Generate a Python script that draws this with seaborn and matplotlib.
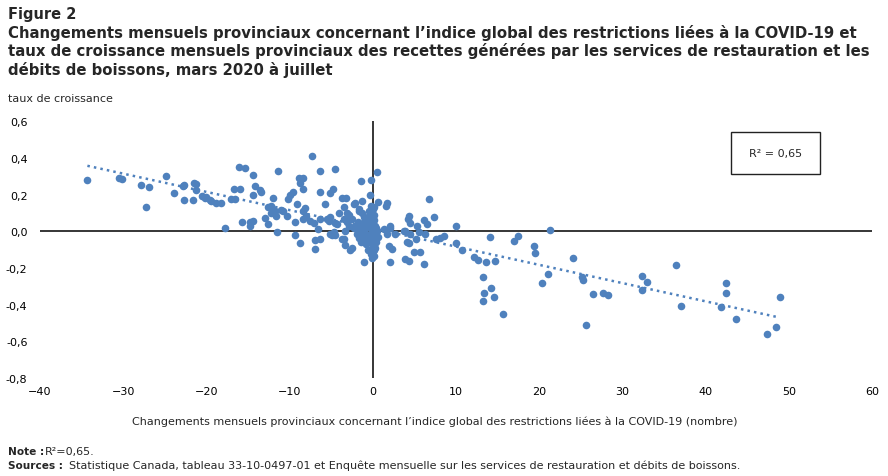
import matplotlib
matplotlib.use("Agg")
import matplotlib.pyplot as plt
import matplotlib.patches as patches
import seaborn as sns
import pandas as pd

# Changements mensuels de l'indice (x) et taux de croissance (y)
changement = [
    # gauche
    -34.3, -30.5, -30.2, -27.9, -27.3, -26.9, -24.8, -23.9, -22.7, -22.8,
    -22.7, -21.6, -21.5, -21.2, -21.2, -20.5, -20.2, -19.6, -20.0, -19.4,
    -18.8, -18.3, -17.8, -17.0, -16.6, -16.7, -16.0, -16.1, -15.3, -15.7,
    -14.8, -14.4, -14.8, -14.4, -14.1, -14.4, -13.6, -13.4, -11.4, -13.0,
    -12.6, -12.6, -12.2, -12.0, -12.2, -11.8, -11.6, -11.0, -11.5, -10.8,
    -10.3, -10.0, -10.2, -9.6, -9.1, -9.3, -9.4, -8.7, -8.9, -8.4,
    -8.8, -8.4, -7.3, -6.4, -4.6, -8.2, -8.35, -8.0, -8.4, -7.5,
    -7.1, -6.3, -5.3, -6.55, -7.0, -7.0, -6.3, -5.15, -4.75, -6.3,
    -5.8, -5.1, -4.8, -5.5, -5.1, -4.3, -4.9, -4.6,
    # autour de zéro
    -3.2, -2.2, -1.3, -1.4, -0.2, -3.5, -3.1, -3.5, -3.1, -2.5,
    -3.5, -3.3, -2.5, -1.9, -1.7, -2.3, 0.5, -0.3, 0.6, 1.7,
    -2.1, -1.7, -1.3, -4.7, -2.9, -1.9, -1.1, -0.1, -4.1, -2.9,
    -3.7, -2.7, -4.5, -3.3, -2.1, 0.1, -3.7,
    -0.2, 0.0, -0.3, 0.1, -0.1, 0.2, -0.4, 0.0, 0.3, -0.2,
    0.1, -0.1, 0.2, -0.3, 0.0, 0.2, -0.2, 0.1, -0.1, 0.0,
    -0.2, 0.1, -0.8, -1.2, -0.6, -1.5, -0.9, -1.3, -0.7, -1.6,
    -1.0, -0.5, -1.4, -0.8, 0.5, 0.6, 0.4, -0.5, -1.0, -1.8,
    0.4, -0.6, 0.3, -0.4, 0.2,
    # droite
    1.6, 6.8, 7.3, 4.4, 4.5, 5.3, 6.1, 6.5, 3.9, 4.3,
    6.1, 4.9, 5.7, 4.4, 5.2, 4.5, 3.7, 5.6, 6.3, 7.6,
    8.1, 8.5, 1.9, 2.3, 1.3, 2.1, 2.7, 2.1, 1.7, 3.9,
    4.2, 4.1, 2.1, 10.0, 10.0, 10.7, 12.2, 12.7, 13.6, 13.2,
    13.4, 13.3, 14.2, 14.6, 14.1, 14.7, 15.7, 17.0, 17.5, 19.4,
    19.5, 21.3, 21.1, 20.3, 24.1, 25.2, 25.3, 26.5, 25.6, 27.7,
    28.3, 32.3, 32.9, 32.3, 36.5, 37.0, 42.4, 42.4, 41.8, 43.6,
    48.9, 48.5, 47.4,
]
croissance = [
    0.28, 0.29, 0.285, 0.25, 0.13, 0.24, 0.30, 0.21, 0.25, 0.245,
    0.17, 0.17, 0.265, 0.255, 0.225, 0.19, 0.18, 0.17, 0.185, 0.165,
    0.155, 0.155, 0.02, 0.175, 0.175, 0.23, 0.23, 0.35, 0.345, 0.05,
    0.05, 0.055, 0.03, 0.305, 0.245, 0.20, 0.225, 0.215, 0.33, 0.07,
    0.04, 0.13, 0.14, 0.18, 0.10, 0.11, 0.085, 0.115, -0.005, 0.11,
    0.085, 0.20, 0.175, 0.215, 0.15, 0.05, -0.02, -0.065, 0.29, 0.29,
    0.26, 0.23, 0.41, 0.33, 0.34, 0.125, 0.11, 0.085, 0.065, 0.055,
    0.045, 0.065, 0.055, 0.01, -0.05, -0.095, -0.04, -0.016, -0.016, 0.215,
    0.15, 0.21, 0.23, 0.065, 0.08, 0.04, -0.02, -0.02,
    0.18, 0.15, 0.165, 0.275, 0.28, 0.13, 0.10, 0.065, 0.05, 0.065,
    -0.045, -0.075, -0.09, 0.01, 0.12, 0.02, 0.325, 0.20, 0.16, 0.155,
    0.155, 0.11, 0.10, -0.007, 0.03, -0.016, -0.17, -0.145, 0.10, 0.09,
    -0.045, -0.10, 0.047, 0.002, 0.03, -0.105, 0.18,
    0.14, 0.12, 0.10, 0.09, 0.075, 0.06, 0.05, 0.04, 0.03, 0.02,
    0.01, 0.0, -0.01, -0.02, -0.03, -0.045, -0.06, -0.075, -0.09, -0.11,
    -0.125, -0.135, 0.06, 0.045, 0.03, 0.02, 0.01, -0.01, -0.02, -0.035,
    -0.045, -0.05, -0.06, -0.07, 0.0, -0.03, 0.02, 0.085, 0.075, 0.05,
    -0.06, -0.10, -0.09, 0.11, 0.13,
    0.14, 0.175, 0.08, 0.085, 0.047, 0.03, 0.06, 0.04, -0.15, -0.16,
    -0.18, -0.115, -0.115, -0.065, -0.045, -0.015, 0.0, -0.007, -0.013, -0.045,
    -0.035, -0.025, -0.08, -0.095, 0.01, 0.02, -0.016, 0.03, -0.016, 0.002,
    0.065, -0.06, -0.17, 0.03, -0.065, -0.10, -0.14, -0.155, -0.17, -0.25,
    -0.335, -0.38, -0.31, -0.36, -0.03, -0.16, -0.45, -0.055, -0.025, -0.08,
    -0.12, 0.004, -0.235, -0.28, -0.145, -0.25, -0.265, -0.34, -0.51, -0.335,
    -0.35, -0.245, -0.275, -0.32, -0.185, -0.41, -0.285, -0.335, -0.415, -0.48,
    -0.36, -0.52, -0.56,
]
x_ticks = [-40, -30, -20, -10, 0, 10, 20, 30, 40, 50, 60]
y_ticks = [0.6, 0.4, 0.2, 0.0, -0.2, -0.4, -0.6, -0.8]

df = pd.DataFrame({"changement": changement, "croissance": croissance})

sns.set_style("white")
plt.rcParams['font.family'] = ['DejaVu Sans']

bleu = '#4f81bd'
fig = plt.figure(figsize=(8.88, 4.77), dpi=100)
ax = fig.add_axes([0.045, 0.2055, 0.937, 0.5385])

sns.regplot(data=df, x="changement", y="croissance", ci=None, color=bleu, ax=ax,
            truncate=True,
            scatter_kws=dict(s=30, linewidths=0, alpha=1, zorder=3),
            line_kws=dict(ls=':', lw=1.8, zorder=4))
ax.axhline(0, color='black', lw=1.1, zorder=1)
ax.axvline(0, color='black', lw=1.1, zorder=1)

ax.set_xlim(-40, 60)
ax.set_ylim(-0.8, 0.6)
ax.set_xticks(x_ticks)
ax.set_yticks(y_ticks)
ax.set_yticklabels([f"{v:.1f}".replace('.', ',').replace('-0,0', '0,0') for v in y_ticks])
ax.tick_params(length=0, labelsize=8, colors='black')
ax.tick_params(axis='y', pad=9)
ax.tick_params(axis='x', pad=6)
ax.set_xlabel('')
ax.set_ylabel('')
for s in ax.spines.values():
    s.set_visible(False)

# encadré R²
ax.add_patch(patches.Rectangle((0.831, 0.796), 0.107, 0.16, transform=ax.transAxes,
                               fill=False, edgecolor='#222222', lw=1.0, zorder=5))
ax.text(0.8845, 0.876, 'R² = 0,65', transform=ax.transAxes, ha='center', va='center',
        fontsize=8, zorder=6)

# titres et notes
W, H = 888, 477
fig.text(8 / W, 1 - 14 / H, 'Figure 2', fontsize=10.5, fontweight='bold', va='center')
titre = ["Changements mensuels provinciaux concernant l’indice global des restrictions liées à la COVID-19 et",
         "taux de croissance mensuels provinciaux des recettes générées par les services de restauration et les",
         "débits de boissons, mars 2020 à juillet"]
for i, t in enumerate(titre):
    fig.text(8 / W, 1 - (33 + 18.3 * i) / H, t, fontsize=10.7, fontweight='bold', va='center')
fig.text(8 / W, 1 - 99 / H, 'taux de croissance', fontsize=8, va='center')
fig.text(435 / W, 1 - 422 / H,
         'Changements mensuels provinciaux concernant l’indice global des restrictions liées à la COVID-19 (nombre)',
         fontsize=8, ha='center', va='center')
fig.text(8 / W, 1 - 452 / H, 'Note :', fontsize=7.6, fontweight='bold', va='center')
fig.text(45 / W, 1 - 452 / H, 'R²=0,65.', fontsize=8, va='center')
fig.text(8 / W, 1 - 466 / H, 'Sources :', fontsize=7.6, fontweight='bold', va='center')
fig.text(69 / W, 1 - 466 / H,
         'Statistique Canada, tableau 33-10-0497-01 et Enquête mensuelle sur les services de restauration et débits de boissons.',
         fontsize=8, va='center')

fig.savefig('out.png', dpi=100)
